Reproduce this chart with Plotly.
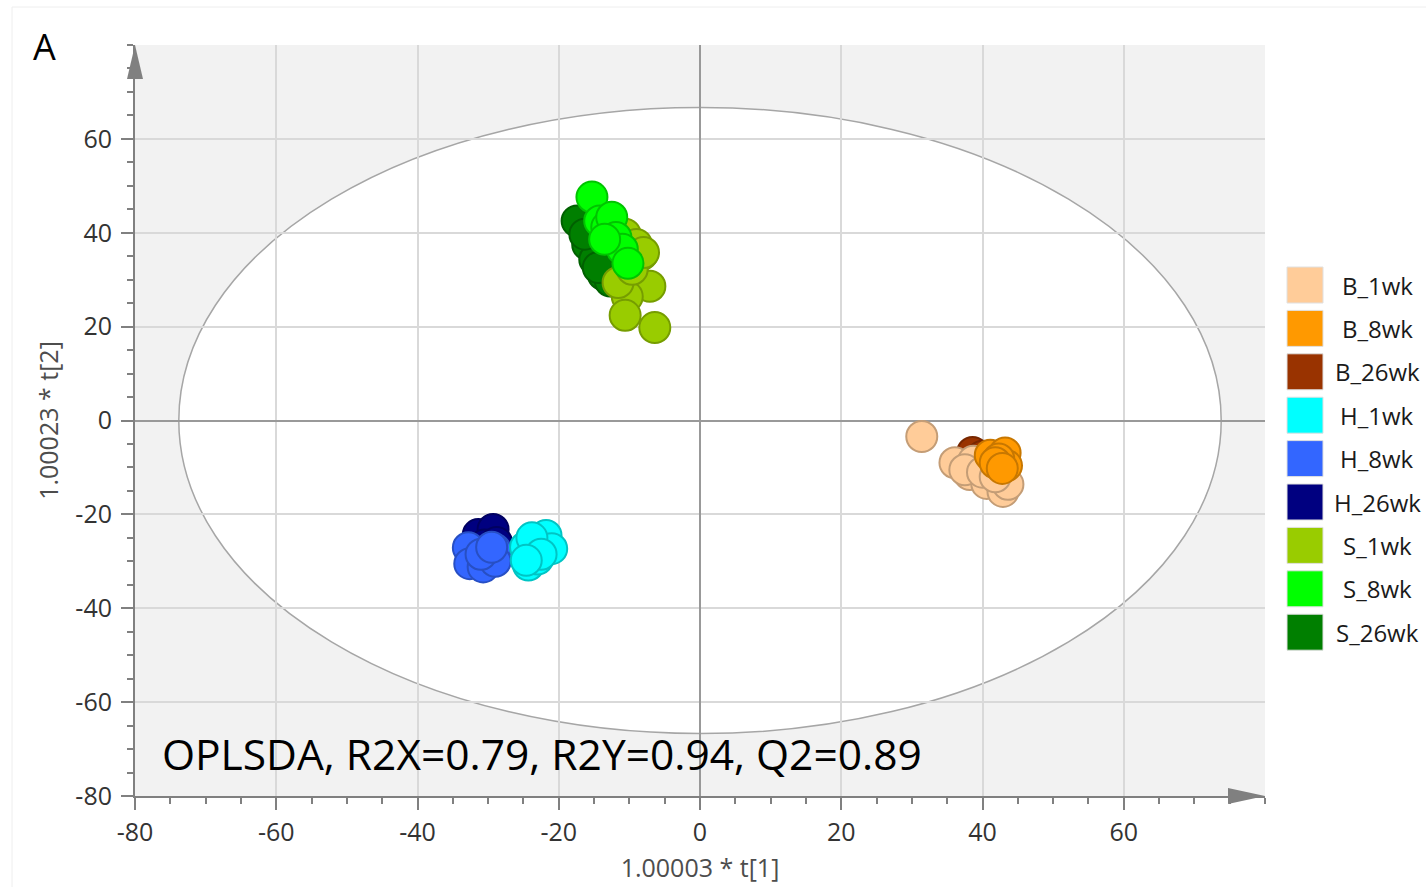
import plotly.graph_objects as go

# ---- score values (t[1], t[2]) per group ----
GROUPS = ["B_1wk", "B_8wk", "B_26wk", "H_1wk", "H_8wk", "H_26wk", "S_1wk", "S_8wk", "S_26wk"]

B_1wk_t1 = [31.4, 36.1, 38.7, 38.2, 40.6, 42.9, 43.6, 37.5, 40.0, 41.8]
B_1wk_t2 = [-3.4, -9.0, -8.7, -11.5, -13.4, -15.1, -13.6, -10.5, -11.0, -12.0]
B_8wk_t1 = [41.1, 43.2, 43.4, 42.3, 41.8, 42.8]
B_8wk_t2 = [-7.4, -6.9, -9.6, -8.2, -9.0, -10.2]
B_26wk_t1 = [38.6, 40.0, 41.3, 39.6]
B_26wk_t2 = [-6.8, -7.6, -8.4, -9.0]

H_1wk_t1 = [-24.7, -21.8, -21.0, -24.3, -23.0, -23.8, -22.5, -24.6]
H_1wk_t2 = [-27.0, -24.5, -27.3, -30.8, -29.5, -25.0, -28.5, -29.8]
H_8wk_t1 = [-32.8, -29.0, -32.6, -30.7, -29.0, -31.0, -29.5]
H_8wk_t2 = [-27.1, -27.5, -30.5, -31.2, -30.0, -28.5, -27.0]
H_26wk_t1 = [-31.4, -29.3, -30.5, -28.8, -30.0]
H_26wk_t2 = [-24.3, -23.2, -26.5, -26.0, -29.5]

S_1wk_t1 = [-10.6, -8.2, -7.1, -10.3, -10.6, -6.4, -11.6, -9.6, -9.0, -8.0]
S_1wk_t2 = [39.7, 35.4, 28.6, 26.4, 22.4, 19.8, 29.4, 32.2, 37.5, 35.8]
S_8wk_t1 = [-15.3, -14.2, -13.2, -12.5, -11.9, -11.0, -10.2, -13.5]
S_8wk_t2 = [47.6, 42.5, 41.2, 43.3, 39.0, 36.5, 33.5, 38.6]
S_26wk_t1 = [-17.4, -15.9, -14.9, -13.7, -12.7, -16.3, -14.4]
S_26wk_t2 = [42.5, 37.5, 34.3, 31.1, 29.7, 39.7, 32.6]

FILL = {
    "B_1wk": "#FFCC99", "B_8wk": "#FF9900", "B_26wk": "#993300",
    "H_1wk": "#00FFFF", "H_8wk": "#3366FF", "H_26wk": "#000080",
    "S_1wk": "#99CC00", "S_8wk": "#00FF00", "S_26wk": "#007F00",
}
EDGE = {
    "B_1wk": "#C49D76", "B_8wk": "#C77700", "B_26wk": "#772700",
    "H_1wk": "#00C4C4", "H_8wk": "#274FC4", "H_26wk": "#000060",
    "S_1wk": "#769D00", "S_8wk": "#00C400", "S_26wk": "#006000",
}
DATA = {
    "B_1wk": (B_1wk_t1, B_1wk_t2), "B_8wk": (B_8wk_t1, B_8wk_t2), "B_26wk": (B_26wk_t1, B_26wk_t2),
    "H_1wk": (H_1wk_t1, H_1wk_t2), "H_8wk": (H_8wk_t1, H_8wk_t2), "H_26wk": (H_26wk_t1, H_26wk_t2),
    "S_1wk": (S_1wk_t1, S_1wk_t2), "S_8wk": (S_8wk_t1, S_8wk_t2), "S_26wk": (S_26wk_t1, S_26wk_t2),
}
DRAW_ORDER = ["B_26wk", "B_1wk", "B_8wk", "H_26wk", "H_8wk", "H_1wk", "S_26wk", "S_1wk", "S_8wk"]

TICKS = [-80, -60, -40, -20, 0, 20, 40, 60]
TICK_TEXT = ["-80", "-60", "-40", "-20", "0", "20", "40", "60"]
ELLIPSE_A, ELLIPSE_B = 73.8, 66.7
STATS = "OPLSDA, R2X=0.79, R2Y=0.94, Q2=0.89"

W, H = 1426, 887
L, R, T, B = 135, 161, 45, 91
PW, PH = W - L - R, H - T - B


def px(x):
    return (x - L) / PW


def py(y):
    return (H - B - y) / PH


FONT = "Open Sans"
AXIS_GRAY = "#808080"

fig = go.Figure()
for g in DRAW_ORDER:
    xs, ys = DATA[g]
    fig.add_trace(go.Scatter(
        x=xs, y=ys, mode="markers", name=g, showlegend=False,
        marker=dict(size=31, color=FILL[g], line=dict(color=EDGE[g], width=2), opacity=1),
        hoverinfo="x+y+name",
    ))

shapes = [
    # Hotelling T2 ellipse (white inside, under the grid)
    dict(type="circle", xref="x", yref="y", x0=-ELLIPSE_A, x1=ELLIPSE_A, y0=-ELLIPSE_B, y1=ELLIPSE_B,
         fillcolor="white", line=dict(color="#A6A6A6", width=1.5), layer="below"),
    # axis arrows
    dict(type="path", xref="paper", yref="paper",
         path=f"M {px(135)} {py(45)} L {px(127)} {py(79)} L {px(143)} {py(79)} Z",
         fillcolor=AXIS_GRAY, line=dict(width=0), layer="above"),
    dict(type="path", xref="paper", yref="paper",
         path=f"M {px(1265)} {py(796)} L {px(1228)} {py(788)} L {px(1228)} {py(804)} Z",
         fillcolor=AXIS_GRAY, line=dict(width=0), layer="above"),
    # faint page frame
    dict(type="line", xref="paper", yref="paper", x0=px(12), x1=px(1426), y0=py(7), y1=py(7),
         line=dict(color="#EEEEEE", width=1)),
    dict(type="line", xref="paper", yref="paper", x0=px(12), x1=px(12), y0=py(7), y1=py(887),
         line=dict(color="#EEEEEE", width=1)),
]

annotations = [
    dict(text=STATS, xref="x", yref="y", x=-76.5, y=-71.0, xanchor="left", yanchor="middle",
         showarrow=False, font=dict(family=FONT, size=42.5, color="black")),
    dict(text="A", xref="paper", yref="paper", x=px(44), y=py(47), xanchor="center", yanchor="middle",
         showarrow=False, font=dict(family=FONT, size=36, color="black")),
]

# legend drawn as swatches + labels at the right
for i, g in enumerate(GROUPS):
    cy = 285 + i * 43.4
    shapes.append(dict(type="rect", xref="paper", yref="paper",
                       x0=px(1287), x1=px(1323), y0=py(cy + 18), y1=py(cy - 18),
                       fillcolor=FILL[g], line=dict(color="#E0E0E0", width=1)))
    annotations.append(dict(text=g, xref="paper", yref="paper", x=px(1377), y=py(cy),
                            xanchor="center", yanchor="middle", showarrow=False,
                            font=dict(family=FONT, size=24, color="#1A1A1A")))

axis_common = dict(
    tickmode="array", tickvals=TICKS, ticktext=TICK_TEXT,
    showgrid=True, gridcolor="#D9D9D9", gridwidth=1.5,
    zeroline=True, zerolinecolor="#999999", zerolinewidth=1.5,
    showline=True, linecolor=AXIS_GRAY, linewidth=2,
    ticks="outside", ticklen=12, tickwidth=2, tickcolor=AXIS_GRAY,
    minor=dict(dtick=5, tick0=0, ticks="outside", ticklen=6, tickwidth=1.5,
               tickcolor=AXIS_GRAY, showgrid=False),
    tickfont=dict(family=FONT, size=25, color="#333333"),
    automargin=False,
    range=[-80, 80], fixedrange=True,
)

fig.update_layout(
    width=W, height=H,
    margin=dict(l=L, r=R, t=T, b=B, pad=0),
    paper_bgcolor="white", plot_bgcolor="#F2F2F2",
    xaxis=dict(**axis_common, ticklabelstandoff=1,
               title=dict(text="1.00003 * t[1]", standoff=12,
                          font=dict(family=FONT, size=25, color="#4D4D4D"))),
    yaxis=dict(**axis_common, ticklabelstandoff=4,
               title=dict(text="1.00023 * t[2]", standoff=10,
                          font=dict(family=FONT, size=25, color="#4D4D4D"))),
    shapes=shapes, annotations=annotations, showlegend=False,
)

fig.write_html("out.html")
